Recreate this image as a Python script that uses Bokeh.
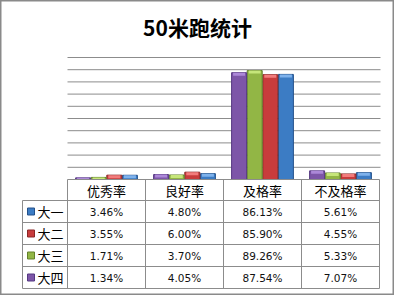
from bokeh.plotting import figure
from bokeh.models import ColumnDataSource, Range1d
from bokeh.transform import dodge
from bokeh.core.properties import value
from bokeh.embed import file_html
from bokeh.resources import INLINE

# ---- data ----
categories = ["优秀率", "良好率", "及格率", "不及格率"]
series = ["大一", "大二", "大三", "大四"]
da1 = [3.46, 4.80, 86.13, 5.61]
da2 = [3.55, 6.00, 85.90, 4.55]
da3 = [1.71, 3.70, 89.26, 5.33]
da4 = [1.34, 4.05, 87.54, 7.07]
y_ticks = [0, 10, 20, 30, 40, 50, 60, 70, 80, 90, 100]
title_text = "50米跑统计"

values = [da1, da2, da3, da4]
base_colors = ["#3C7CC4", "#C83C3C", "#92B645", "#7D56A8"]
dark_colors = ["#24518A", "#8A2626", "#62802A", "#553882"]
light_colors = ["#7EB2EC", "#F27C7C", "#C6E67A", "#AC88D8"]
offsets = [0.3, 0.1, -0.1, -0.3]   # 大四 leftmost, 大一 rightmost

W, H = 394, 295
PX_X = 78.0     # pixels per category
PX_Y = 1.22     # pixels per percent
X0, Y0 = 67, 179  # pixel of category start / zero line

p = figure(width=W, height=H, output_backend="svg", toolbar_location=None,
           x_range=Range1d(-X0 / PX_X, (W - X0) / PX_X),
           y_range=Range1d(-(H - Y0) / PX_Y, Y0 / PX_Y),
           x_axis_location=None, y_axis_location=None, min_border=0)
p.grid.visible = False
p.outline_line_color = "#8A8A8A"
p.outline_line_width = 2
p.background_fill_color = "white"
p.border_fill_color = "white"

ncat = len(categories)
grid_color = "#8C8C8C"

# gridlines
p.segment(x0=[0] * (len(y_ticks) - 1), x1=[ncat + 1 / PX_X] * (len(y_ticks) - 1),
          y0=y_ticks[1:], y1=y_ticks[1:], line_color=grid_color, line_width=1)

# bars
xs = [i + 0.5 for i in range(ncat)]
bw = 15 / PX_X
cap = 3 / PX_Y
for k in range(len(series)):
    vals = values[k]
    src = ColumnDataSource(dict(x=xs, top=vals,
                                capb=[max(v - cap, 0) for v in vals]))
    p.vbar(x=dodge("x", offsets[k], range=p.x_range), top="top", bottom=0, width=bw,
           source=src, fill_color=base_colors[k], line_color=dark_colors[k], line_width=1)
    p.vbar(x=dodge("x", offsets[k], range=p.x_range), top="top", bottom="capb",
           width=bw * 0.8, source=src, fill_color=light_colors[k], line_color=None)

# table geometry
header_h = 21 / PX_Y
row_h = 22 / PX_Y
leg_left = (22 - X0) / PX_X
nrow = len(series)
table_bottom = -(header_h + nrow * row_h)

# horizontal table lines
hy = [0] + [-(header_h + r * row_h) for r in range(nrow + 1)]
hx0 = [0] + [leg_left] * (nrow + 1)
p.segment(x0=hx0, x1=[ncat] * len(hy), y0=hy, y1=hy, line_color=grid_color, line_width=1)
# vertical table lines
vx = list(range(ncat + 1))
p.segment(x0=vx, x1=vx, y0=[0] * len(vx), y1=[table_bottom] * len(vx),
          line_color=grid_color, line_width=1)
p.segment(x0=[leg_left], x1=[leg_left], y0=[-header_h], y1=[table_bottom],
          line_color=grid_color, line_width=1)

# header labels
p.text(x=xs, y=[-header_h / 2] * ncat, text=categories, text_align="center",
       text_baseline="middle", text_font=value("Noto Sans CJK SC"),
       text_font_size="13px", text_color="black")

# values
tx, ty, tt = [], [], []
for r in range(nrow):
    for c in range(ncat):
        tx.append(xs[c])
        ty.append(-(header_h + (r + 0.5) * row_h))
        tt.append("%.2f%%" % values[r][c])
p.text(x=tx, y=ty, text=tt, text_align="center", text_baseline="middle",
       text_font=value("DejaVu Sans"), text_font_size="10.5px", text_color="#111111")

# legend keys
ry = [-(header_h + (r + 0.5) * row_h) for r in range(nrow)]
p.rect(x=[(30.5 - X0) / PX_X] * nrow, y=ry, width=7, height=7,
       width_units="screen", height_units="screen",
       fill_color=base_colors, line_color=dark_colors, line_width=1)
p.text(x=[(37 - X0) / PX_X] * nrow, y=ry, text=series, text_align="left",
       text_baseline="middle", text_font=value("Noto Sans CJK SC"),
       text_font_size="13px", text_color="black")

# title
p.text(x=[(197 - X0) / PX_X], y=[(Y0 - 26) / PX_Y], text=[title_text],
       text_align="center", text_baseline="middle", text_font=value("Noto Sans CJK SC"),
       text_font_size="21px", text_font_style="bold", text_color="black")

open("out.html", "w").write(file_html(p, INLINE))
